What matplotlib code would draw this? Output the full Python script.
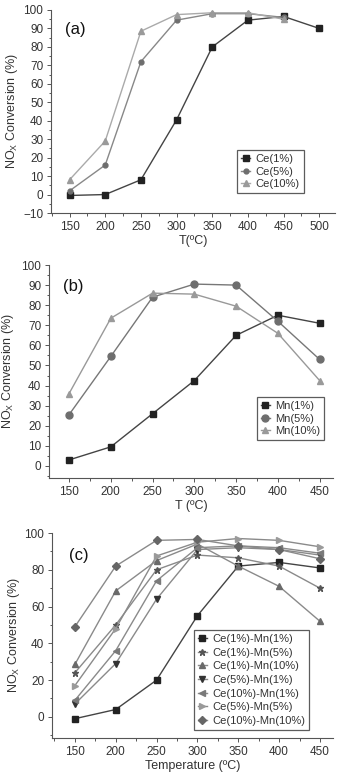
import numpy as np
import matplotlib.pyplot as plt
from matplotlib.ticker import MultipleLocator

# panel (a)
temp_a = [150, 200, 250, 300, 350, 400, 450, 500]
ce1 = [-0.5, 0, 8, 40.5, 80, 94.5, 96.5, 90]
ce5 = [2, 16, 72, 94.5, 98, 98, 96]
ce10 = [8, 29, 88.5, 97.5, 98.5, 98.5, 95]

# panel (b)
temp_b = [150, 200, 250, 300, 350, 400, 450]
mn1 = [3, 9.5, 26, 42.5, 65, 75, 71]
mn5 = [25.5, 54.5, 84, 90.5, 90, 72, 53]
mn10 = [36, 73.5, 86, 85.5, 79.5, 66, 42.5]

# panel (c)
temp_c = [150, 200, 250, 300, 350, 400, 450]
c1m1 = [-1, 4, 20, 55, 82, 84, 81]
c1m5 = [24, 50, 80, 88, 86.5, 82, 70]
c1m10 = [28.5, 68.5, 85, 94, 82, 71, 52]
c5m1 = [7, 29, 64, 91, 92, 91, 88]
c10m1 = [9, 36, 74, 92, 93, 92, 89]
c5m5 = [17, 48, 87.5, 95, 97, 96, 92.5]
c10m10 = [49, 82, 96, 96.5, 93, 91, 86]

plt.rcParams['font.family'] = 'Liberation Sans'

fig = plt.figure(figsize=(3.4, 7.81), dpi=100)
W, H = 340, 781


def make_ax(l, r, t, b):
    ax = fig.add_axes([l / W, 1 - b / H, (r - l) / W, (b - t) / H])
    ax.spines['top'].set_visible(False)
    ax.spines['right'].set_visible(False)
    for s in ['left', 'bottom']:
        ax.spines[s].set_color('#555555')
        ax.spines[s].set_linewidth(0.8)
    ax.tick_params(which='both', direction='out', colors='#555555',
                   labelcolor='#333333', labelsize=8.5, width=0.7, pad=2.5)
    ax.tick_params(which='major', length=3)
    ax.tick_params(which='minor', length=1.8)
    return ax


def add_legend(ax, anchor, spacing):
    leg = ax.legend(loc='lower right', bbox_to_anchor=anchor, fontsize=8, frameon=True,
                    fancybox=False, edgecolor='#333333', handlelength=0.8, borderpad=0.35,
                    labelspacing=spacing, handletextpad=0.5, borderaxespad=0)
    leg.get_frame().set_linewidth(0.9)
    for t in leg.get_texts():
        t.set_color('#333333')


dark = '#222222'
mid = '#6e6e6e'
light = '#9a9a9a'
ylab = 'NO$_\\mathregular{X}$ Conversion (%)'

# (a)
ax = make_ax(51, 335, 10, 213)
ax.plot(temp_a, ce1, color='#444444', marker='s', ms=4, mfc=dark, mec=dark, lw=1, label='Ce(1%)')
ax.plot(temp_a[:7], ce5, color='#888888', marker='o', ms=3.5, mfc=mid, mec=mid, lw=1, label='Ce(5%)')
ax.plot(temp_a[:7], ce10, color='#aaaaaa', marker='^', ms=4.5, mfc=light, mec=light, lw=1, label='Ce(10%)')
ax.set_xlim(124, 522)
ax.set_ylim(-10, 100)
ax.xaxis.set_major_locator(MultipleLocator(50))
ax.xaxis.set_minor_locator(MultipleLocator(25))
ax.yaxis.set_minor_locator(MultipleLocator(5))
ax.set_yticks(np.arange(-10, 101, 10))
ax.set_yticklabels(['\u221210'] + [str(v) for v in range(0, 101, 10)])
ax.set_xlabel('T(\u00baC)', fontsize=9, color='#333333', labelpad=2)
ax.set_ylabel(ylab, fontsize=9, color='#333333', labelpad=2)
ax.text(0.05, 0.88, '(a)', transform=ax.transAxes, fontsize=12, color='#111111')
add_legend(ax, (0.89, 0.1), 0.2)

# (b)
ax = make_ax(49, 333, 265, 478)
ax.plot(temp_b, mn1, color='#444444', marker='s', ms=4.5, mfc=dark, mec=dark, lw=1, label='Mn(1%)')
ax.plot(temp_b, mn5, color='#777777', marker='o', ms=5, mfc=mid, mec=mid, lw=1, label='Mn(5%)')
ax.plot(temp_b, mn10, color='#999999', marker='^', ms=5, mfc=light, mec=light, lw=1, label='Mn(10%)')
ax.set_xlim(126, 466)
ax.set_ylim(-6, 100)
ax.xaxis.set_major_locator(MultipleLocator(50))
ax.xaxis.set_minor_locator(MultipleLocator(25))
ax.yaxis.set_major_locator(MultipleLocator(10))
ax.yaxis.set_minor_locator(MultipleLocator(5))
ax.set_xlabel('T (\u00baC)', fontsize=9, color='#333333', labelpad=2)
ax.set_ylabel(ylab, fontsize=9, color='#333333', labelpad=4)
ax.text(0.05, 0.88, '(b)', transform=ax.transAxes, fontsize=12, color='#111111')
add_legend(ax, (0.97, 0.18), 0.2)

# (c)
ax = make_ax(52, 333, 533, 738)
series_c = [
    (c1m1, 's', '#222222', 'Ce(1%)-Mn(1%)', 4.5),
    (c1m5, '*', '#555555', 'Ce(1%)-Mn(5%)', 5),
    (c1m10, '^', '#6a6a6a', 'Ce(1%)-Mn(10%)', 4.5),
    (c5m1, 'v', '#333333', 'Ce(5%)-Mn(1%)', 4.5),
    (c10m1, '<', '#7a7a7a', 'Ce(10%)-Mn(1%)', 4.5),
    (c5m5, '>', '#9a9a9a', 'Ce(5%)-Mn(5%)', 4.5),
    (c10m10, 'D', '#666666', 'Ce(10%)-Mn(10%)', 4),
]
for vals, mk, col, lab, ms in series_c:
    lc = '#444444' if mk == 's' else '#8a8a8a'
    ax.plot(temp_c, vals, color=lc, marker=mk, ms=ms, mfc=col, mec=col, lw=1, label=lab)
ax.set_xlim(122, 466)
ax.set_ylim(-11.5, 100)
ax.xaxis.set_major_locator(MultipleLocator(50))
ax.xaxis.set_minor_locator(MultipleLocator(25))
ax.yaxis.set_major_locator(MultipleLocator(20))
ax.yaxis.set_minor_locator(MultipleLocator(10))
ax.set_xlabel('Temperature (\u00baC)', fontsize=9, color='#333333', labelpad=2)
ax.set_ylabel(ylab, fontsize=9, color='#333333', labelpad=2)
ax.text(0.06, 0.87, '(c)', transform=ax.transAxes, fontsize=12, color='#111111')
add_legend(ax, (0.915, 0.04), 0.33)

fig.savefig('out.png', dpi=100)
